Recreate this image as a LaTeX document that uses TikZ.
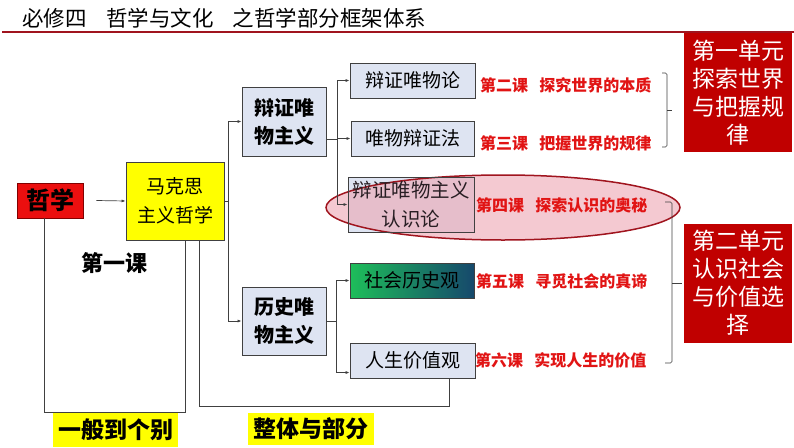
\documentclass[tikz,border=0pt]{standalone}
\usepackage{fontspec}
\setmainfont{Noto Sans CJK SC}
\usetikzlibrary{arrows.meta,shapes.geometric}
\definecolor{darkred}{RGB}{160,20,30}
\definecolor{unitred}{RGB}{192,0,0}
\definecolor{lessonred}{RGB}{225,20,20}
\definecolor{boxblue}{RGB}{222,228,242}
\definecolor{boxline}{RGB}{64,64,64}
\definecolor{ellfill}{RGB}{236,165,178}
\definecolor{hlgreen}{RGB}{30,190,90}
\definecolor{hlteal}{RGB}{22,72,108}
\definecolor{zxred}{RGB}{235,15,15}
\definecolor{myyellow}{RGB}{255,255,0}
\pgfdeclarelayer{back}
\pgfdeclarelayer{mid}
\pgfsetlayers{back,mid,main}
\begin{document}
\begin{tikzpicture}[x=1pt,y=-1pt,
  conn/.style={draw=boxline, line width=0.7pt},
  arr/.style={conn, -{Latex[length=4pt,width=3pt]}},
  bluebox/.style={draw=boxline, line width=0.8pt, fill=boxblue, inner sep=0pt, align=center},
  lesson/.style={anchor=west, inner sep=0pt, text=lessonred, font=\fontsize{16}{18}\selectfont\bfseries},
  unitbox/.style={fill=unitred, text=white, minimum width=108pt, minimum height=119pt, inner sep=0pt, align=center, font=\fontsize{23}{28}\selectfont},
  ylabel/.style={fill=myyellow, inner sep=0pt, font=\fontsize{23}{26}\selectfont\bfseries}
]
\useasboundingbox (0,0) rectangle (794,447);

% title
\node[anchor=west, inner sep=0pt, font=\fontsize{21.5}{24}\selectfont] (title) at (22,18)
  {必修四\hspace{0.9em}哲学与文化\hspace{0.9em}之哲学部分框架体系};
\draw[darkred, line width=2.5pt] (2,32) -- (794,32);

% main nodes
\node[fill=zxred, draw={rgb,255:red,130;green,0;blue,0}, line width=0.8pt, minimum width=66pt, minimum height=35pt, inner sep=0pt,
  font=\fontsize{24}{28}\selectfont\bfseries] (zx) at (50,200.5) {哲学};
\node[fill=myyellow, draw=boxline, line width=0.8pt, minimum width=98pt, minimum height=78pt, inner sep=0pt, align=center,
  font=\fontsize{19}{29}\selectfont] (mk) at (175,201) {马克思\\主义哲学};

\node[bluebox, minimum width=84pt, minimum height=69pt, font=\fontsize{20}{28}\selectfont\bfseries] (bz) at (284,121.5) {辩证唯\\物主义};
\node[bluebox, minimum width=84pt, minimum height=68pt, font=\fontsize{20}{28}\selectfont\bfseries] (ls) at (284,321) {历史唯\\物主义};

\node[bluebox, minimum width=125pt, minimum height=35pt, font=\fontsize{19}{22}\selectfont] (b1) at (412.5,80.5) {辩证唯物论};
\node[bluebox, minimum width=123pt, minimum height=35pt, font=\fontsize{19}{22}\selectfont] (b2) at (412.5,138.5) {唯物辩证法};
\node[draw=boxline, line width=0.8pt, inner sep=0pt, align=center, text={rgb,255:red,40;green,30;blue,35},
  minimum width=126pt, minimum height=55pt, font=\fontsize{19.5}{29}\selectfont] (b3) at (411,204.5) {辩证唯物主义\\认识论};
\begin{pgfonlayer}{back}
\fill[boxblue] (b3.north west) rectangle (b3.south east);
\end{pgfonlayer}
\node[draw=boxline, line width=0.8pt, left color=hlgreen, right color=hlteal, inner sep=0pt, minimum width=124pt, minimum height=35pt,
  font=\fontsize{19}{22}\selectfont] (h1) at (412,280.5) {社会历史观};
\node[bluebox, minimum width=125pt, minimum height=35pt, font=\fontsize{19}{22}\selectfont] (h2) at (412.5,360.5) {人生价值观};

% highlight ellipse
\begin{pgfonlayer}{mid}
\node[ellipse, draw=darkred, line width=1.5pt, fill=ellfill, fill opacity=0.6, minimum width=354pt, minimum height=65pt, inner sep=0pt] (ell) at (503,207.5) {};
\end{pgfonlayer}

% lessons
\node[lesson] (l2) at (480,85) {第二课\hspace{0.7em}探究世界的本质};
\node[lesson] (l3) at (480,143) {第三课\hspace{0.7em}把握世界的规律};
\node[lesson] (l4) at (476,205) {第四课\hspace{0.7em}探索认识的奥秘};
\node[lesson] (l5) at (476,281) {第五课\hspace{0.7em}寻觅社会的真谛};
\node[lesson] (l6) at (475,360) {第六课\hspace{0.7em}实现人生的价值};

% units
\node[unitbox] (u1) at (738,92.5) {第一单元\\探索世界\\与把握规\\律};
\node[unitbox] (u2) at (738,283) {第二单元\\认识社会\\与价值选\\择};

% braces
\draw[conn, line width=0.6pt, rounded corners=1.5pt] (662,73) -- (667,73) -- (667,147) -- (662,147);
\draw[conn, line width=0.6pt] (667,110) -- (672,110);
\draw[conn, line width=0.6pt, rounded corners=1.5pt] (665,202) -- (672,202) -- (672,363) -- (665,363);
\draw[conn, line width=0.6pt] (672,283) -- (682,283);

% labels
\node[font=\fontsize{22}{26}\selectfont\bfseries, inner sep=0pt] (k1) at (114,263) {第一课};
\node[ylabel, minimum width=125pt, minimum height=34pt] (g1) at (115.5,430) {一般到个别};
\node[ylabel, minimum width=126pt, minimum height=32pt] (g2) at (311,429) {整体与部分};

% connectors
\draw[arr] ([xshift=13pt]zx.east) -- (mk.west);
\coordinate (t1) at (228,201);
\draw[conn] (mk.east) -- (t1);
\draw[arr] (t1) |- (bz.west);
\draw[arr] (t1) |- (ls.west);

\coordinate (t2) at (337,139);
\draw[conn] ([yshift=-17.5pt]bz.east) -- (t2);
\draw[arr] (t2) |- (b1.west);
\draw[arr] (t2) |- (b2.west);
\draw[arr] (t2) |- (b3.west);

\coordinate (t3) at (336,321);
\draw[conn] (ls.east) -- (t3);
\draw[arr] (t3) |- (h1.west);
\draw[arr] (t3) |- ([yshift=-12pt]h2.west);

\draw[conn] ([xshift=-6pt]zx.south) |- (185,412) -- ([xshift=10pt]mk.south);
\draw[conn] ([xshift=24pt]mk.south) |- (449,406) -- ([xshift=36.5pt]h2.south);
\end{tikzpicture}
\end{document}
